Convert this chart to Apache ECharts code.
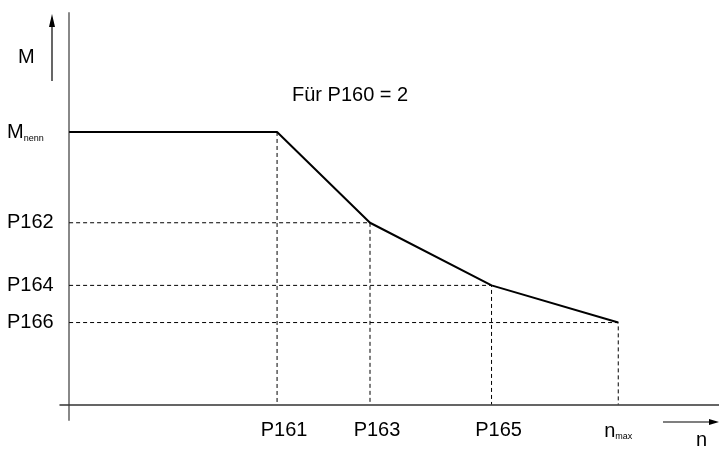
<!DOCTYPE html>
<html>
<head>
<meta charset="utf-8">
<script src="https://cdn.jsdelivr.net/npm/echarts@6/dist/echarts.min.js"></script>
<style>
  html, body { margin: 0; padding: 0; background: #fff; }
  #chart { width: 719px; height: 449px; }
</style>
</head>
<body>
<div id="chart"></div>
<script>
// speed breakpoints (x) and torque levels (y)
var speedTicks = ['P161', 'P163', 'P165', 'nmax']
var speedValues = [32, 46.3, 65, 84.5]
var torqueTicks = ['Mnenn', 'P162', 'P164', 'P166']
var torqueValues = [69.6, 46.4, 30.4, 20.9]

var font = "'Liberation Sans', Arial, sans-serif"

function nearest (list, v) {
  var best = 0
  list.forEach(function (x, i) {
    if (Math.abs(x - v) < Math.abs(list[best] - v)) best = i
  })
  return best
}

function tickText (name, axis) {
  if (name === 'Mnenn') return '{big|M}{sub|nenn}'
  if (name === 'nmax') return '{big|n}{sub|max}'
  return axis === 'x' ? '{px|' + name + '}' : '{p|' + name + '}'
}

var rich = {
  big: { fontSize: 20, fontFamily: font, color: '#000', verticalAlign: 'bottom', lineHeight: 22 },
  sub: { fontSize: 9, fontFamily: font, color: '#000', verticalAlign: 'bottom', lineHeight: 18 },
  p: { fontSize: 20, fontFamily: font, color: '#000', lineHeight: 22 },
  px: { fontSize: 20, fontFamily: font, color: '#000', lineHeight: 22, padding: [0, 0, 0, 14] }
}

// characteristic curve
var curve = [[0, torqueValues[0]]]
speedValues.forEach(function (x, i) { curve.push([x, torqueValues[i]]) })

// dashed guides from each corner to the axes
var guides = speedValues.map(function (x, i) {
  var y = torqueValues[i]
  var pts = i === 0 ? [[x, y], [x, 0]] : [[0, y], [x, y], [x, 0]]
  return {
    type: 'line',
    data: pts,
    symbol: 'none',
    silent: true,
    z: 1,
    lineStyle: { color: '#000', width: 1, type: [4, 3] }
  }
})

var chart = echarts.init(document.getElementById('chart'))
var option = {
  animation: false,
  grid: { left: 60, right: 0, top: 13, bottom: 29, containLabel: false, outerBoundsMode: 'none' },
  xAxis: {
    type: 'value',
    min: -1.4,
    max: 100,
    splitLine: { show: false },
    axisTick: { show: false },
    axisLine: { show: true, onZero: true, lineStyle: { color: '#333', width: 1.5 } },
    axisLabel: {
      customValues: speedValues,
      margin: -1,
      rich: rich,
      formatter: function (v) { return tickText(speedTicks[nearest(speedValues, v)], 'x') }
    }
  },
  yAxis: {
    type: 'value',
    min: -4,
    max: 100,
    splitLine: { show: false },
    axisTick: { show: false },
    axisLine: { show: true, onZero: true, lineStyle: { color: '#888', width: 2 } },
    axisLabel: {
      customValues: torqueValues,
      align: 'left',
      margin: 53,
      rich: rich,
      formatter: function (v) { return tickText(torqueTicks[nearest(torqueValues, v)], 'y') }
    }
  },
  series: guides.concat([{
    type: 'line',
    data: curve,
    symbol: 'none',
    z: 3,
    lineStyle: { color: '#000', width: 2 }
  }]),
  graphic: [
    { type: 'text', left: 18, top: 47, style: { text: 'M', fontSize: 20, fontFamily: font, fill: '#000' } },
    { type: 'line', shape: { x1: 52, y1: 81, x2: 52, y2: 24 }, style: { stroke: '#000', lineWidth: 1.2 } },
    { type: 'polygon', shape: { points: [[52, 14], [49, 27], [55, 27]] }, style: { fill: '#000' } },
    { type: 'line', shape: { x1: 663, y1: 422, x2: 710, y2: 422 }, style: { stroke: '#000', lineWidth: 1.2 } },
    { type: 'polygon', shape: { points: [[719, 422], [709, 419], [709, 425]] }, style: { fill: '#000' } },
    { type: 'text', left: 696, top: 430, style: { text: 'n', fontSize: 20, fontFamily: font, fill: '#000' } },
    { type: 'text', left: 292, top: 85, style: { text: 'Für P160 = 2', fontSize: 20, fontFamily: font, fill: '#000' } }
  ]
}
chart.setOption(option)
</script>
</body>
</html>
